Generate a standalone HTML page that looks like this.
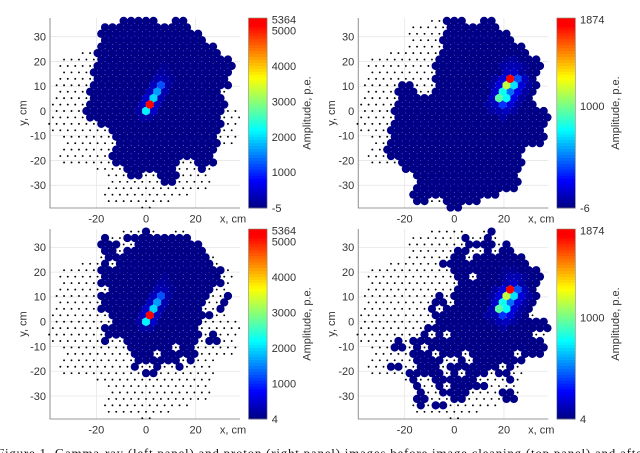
<!DOCTYPE html>
<html lang="en">
<head>
<meta charset="utf-8">
<title>Gamma-ray and proton camera images</title>
<style>
html,body{margin:0;padding:0;background:#fff;width:640px;height:453px;overflow:hidden}
svg{display:block;position:absolute;left:0;top:0}
#chart{filter:blur(0.3px)}
text{font-family:"Liberation Sans",sans-serif;fill:#333;font-size:11px}
#caption text{font-family:"Liberation Serif",serif;fill:#111;font-size:13px}
</style>
</head>
<body>
<svg id="chart" width="640" height="453" viewBox="0 0 640 453" xmlns="http://www.w3.org/2000/svg"></svg>
<svg id="caption" width="640" height="453" viewBox="0 0 640 453" xmlns="http://www.w3.org/2000/svg">
<text x="-3" y="457.5" textLength="650" lengthAdjust="spacing">Figure 1. Gamma-ray (left panel) and proton (right panel) images before image cleaning (top panel) and after</text>
</svg>
<script>
// Lattice rows of the camera: [row, first column, last column] (every second column exists in a row)
const cameraRows = [[14,-6,2],[14,8,10],[13,-11,11],[12,-12,14],[11,-11,15],[10,-12,18],[9,-17,19],[8,-22,22],[7,-23,23],[6,-22,22],[5,-23,21],[4,-24,22],[3,-23,21],[2,-24,20],[1,-25,21],[0,-24,24],[-1,-25,25],[-2,-26,24],[-3,-25,23],[-4,-22,24],[-5,-21,23],[-6,-22,18],[-7,-23,17],[-8,-22,18],[-9,-13,17],[-10,-10,16],[-11,-9,17],[-12,-10,16],[-13,-11,11],[-14,-10,6],[-15,-1,1]];

// Pixels with signal in each panel: [row, first column, last column]
const litGammaRaw = [[14,-6,2],[14,8,10],[13,-11,11],[12,-12,14],[11,-11,15],[10,-12,18],[9,-13,19],[8,-12,22],[7,-13,23],[6,-14,22],[5,-13,21],[4,-14,22],[3,-15,19],[2,-14,20],[1,-15,21],[0,-16,20],[-1,-15,19],[-2,-12,20],[-3,-9,19],[-4,-8,18],[-5,-7,19],[-6,-8,18],[-7,-9,17],[-8,-8,8],[-8,14,18],[-9,-5,7],[-9,15,15],[-10,-4,-2],[-10,4,8],[-11,5,7]];
const litProtonRaw = [[14,-2,2],[14,8,10],[13,-1,11],[12,-2,14],[11,-3,15],[10,-2,18],[9,-3,19],[8,-4,22],[7,-5,23],[6,-4,22],[5,-5,21],[4,-14,-12],[4,-4,22],[3,-15,-11],[3,-5,21],[2,-14,20],[1,-15,21],[0,-16,24],[-1,-15,25],[-2,-16,24],[-3,-17,23],[-4,-16,24],[-5,-17,23],[-6,-18,18],[-7,-17,17],[-8,-14,18],[-9,-13,17],[-10,-10,16],[-11,-9,17],[-12,-10,16],[-13,-11,11],[-14,-10,-8],[-14,-2,6],[-15,-1,1]];
const litGammaClean = [[14,0,0],[13,-11,-11],[13,-5,11],[12,-12,-8],[12,-2,14],[11,-11,-9],[11,-5,15],[10,-10,16],[9,-11,-11],[9,-7,17],[8,-12,20],[7,-11,19],[6,-12,20],[5,-9,17],[4,-12,16],[4,22,22],[3,-11,15],[3,21,21],[2,-12,14],[2,20,20],[1,-9,17],[0,-8,14],[-1,-11,13],[-2,-10,14],[-2,18,18],[-3,-11,-11],[-3,-5,13],[-3,17,19],[-4,-4,6],[-4,10,12],[-5,-3,1],[-5,5,9],[-5,11,13],[-6,-2,8],[-6,12,12],[-7,-3,-3],[-7,3,3],[-7,9,9],[-8,0,2]];
const litProtonClean = [[14,10,10],[13,3,3],[13,9,9],[12,4,6],[12,8,10],[12,14,14],[11,1,3],[11,9,9],[11,13,15],[10,0,2],[10,6,18],[9,-3,19],[8,0,22],[7,1,3],[7,7,23],[6,2,22],[5,1,21],[4,-4,-4],[4,0,22],[3,-5,-3],[3,1,21],[2,-6,-6],[2,-2,20],[1,-5,19],[0,-4,24],[-1,-7,25],[-2,-8,-8],[-2,-4,-4],[-2,0,20],[-3,-15,-15],[-3,-11,23],[-4,-16,-14],[-4,-10,-10],[-4,-6,24],[-5,-11,-7],[-5,-3,1],[-5,5,15],[-5,19,23],[-6,-10,-4],[-6,2,2],[-6,6,18],[-7,-17,-15],[-7,-9,-5],[-7,-1,11],[-7,15,15],[-8,-12,-4],[-8,0,0],[-8,4,8],[-8,12,14],[-9,-11,-11],[-9,-5,-3],[-9,-1,5],[-9,15,15],[-10,-10,-10],[-10,-4,-4],[-10,0,8],[-11,-9,-9],[-11,-3,3],[-11,13,15],[-12,-10,-8],[-12,0,2],[-12,14,16],[-13,-9,-9],[-13,-5,-3]];

// Amplitudes above the base level: [row, column, amplitude in p.e.]
const hotGamma = [[1,1,5364],[0,0,2150],[2,2,1950],[3,3,1620],[4,4,1230],[1,-1,400],[1,3,400],[0,2,450],[0,-2,180],[2,0,450],[2,4,320],[3,1,370],[3,5,260],[4,2,340],[4,6,220],[5,3,290],[5,5,290],[5,7,110],[6,4,180],[6,6,110],[-1,-1,180],[-1,1,220],[7,5,90]];
const hotProton = [[5,15,1874],[4,14,1150],[5,17,420],[4,16,720],[3,13,800],[3,15,480],[2,12,950],[2,14,780],[1,13,370],[6,14,120],[6,16,160],[6,18,80],[5,13,180],[5,19,120],[5,11,65],[4,12,180],[4,18,180],[4,10,70],[4,20,65],[3,11,160],[3,17,200],[3,19,70],[2,10,120],[2,16,200],[2,18,70],[1,11,120],[1,15,180],[1,17,70],[1,9,65],[0,12,105],[0,14,135],[0,16,65],[0,10,55],[-1,13,65],[7,15,95],[7,17,95],[7,13,55],[7,19,50],[8,16,55],[8,14,50]];

const baseAmplitudeGamma = 40;
const baseAmplitudeProton = 14;

const colorTicksGamma = [5364,5000,4000,3000,2000,1000];
const colorTicksProton = [1874,1000];
const colorMinGammaRaw = -5;
const colorMinProtonRaw = -6;
const colorMinClean = 4;
const xTicks = [-20,0,20];
const yTicks = [30,20,10,0,-10,-20,-30];
const xAxisTitle = 'x, cm';
const yAxisTitle = 'y, cm';
const colorTitle = 'Amplitude, p.e.';

const NS = 'http://www.w3.org/2000/svg';
const root = document.getElementById('chart');
const HALF_PITCH_CM = 1.5, ROW_CM = 2.598;
const AX_W = 190, AX_H = 190, PX_X = 2.483, PX_Y = 2.477, R_CELL = 4.13;

function make(tag, parent, attrs) {
  const el = document.createElementNS(NS, tag);
  for (const k in attrs) el.setAttribute(k, attrs[k]);
  parent.appendChild(el);
  return el;
}
function jet(t) {
  const stops = [[0,0,0,135],[0.14,0,0,255],[0.41,0,255,255],[0.69,255,255,0],[0.97,255,0,0],[1,255,0,0]];
  t = Math.max(0, Math.min(1, t));
  t = Math.min(63, Math.floor(t * 64)) / 63;
  for (let i = 1; i < stops.length; i++) {
    if (t <= stops[i][0]) {
      const a = stops[i - 1], b = stops[i], f = (t - a[0]) / (b[0] - a[0]);
      return 'rgb(' + [1, 2, 3].map(c => Math.round(a[c] + (b[c] - a[c]) * f)).join(',') + ')';
    }
  }
  return 'rgb(255,0,0)';
}

function drawPanel(cfg) {
  const g = make('g', root, {});
  
  
  const xScale = cm => cfg.x0 + cm * PX_X;
  const yScale = cm => cfg.y0 - cm * PX_Y;
  const top = cfg.top, bottom = cfg.top + AX_H, left = cfg.left, right = cfg.left + AX_W;

  // grid
  yTicks.forEach(v => {
    const l = make('line', g, {x1: left, x2: right, y1: yScale(v), y2: yScale(v), stroke: '#e6e6e6', 'stroke-width': 0.8});
    
    
  });
  xTicks.forEach(v => {
    const l = make('line', g, {x1: xScale(v), x2: xScale(v), y1: top, y2: bottom, stroke: '#e6e6e6', 'stroke-width': 0.8});
    
    
  });

  // axes
  const ay = make('line', g, {x1: left, x2: left, y1: top, y2: bottom, stroke: '#999', 'stroke-width': 1.1});
  
  
  const ax = make('line', g, {x1: left - 0.5, x2: right, y1: bottom, y2: bottom, stroke: '#999', 'stroke-width': 1.1});
  
  

  // lit lookup
  const lit = new Set();
  cfg.lit.forEach(r => { for (let c = r[1]; c <= r[2]; c += 2) lit.add(r[0] + ':' + c); });
  const amp = new Map();
  cfg.hot.forEach(h => amp.set(h[0] + ':' + h[1], h[2]));

  // empty pixel markers
  cameraRows.forEach(r => {
    for (let c = r[1]; c <= r[2]; c += 2) {
      if (lit.has(r[0] + ':' + c)) continue;
      const d = make('circle', g, {cx: xScale(c * HALF_PITCH_CM), cy: yScale(r[0] * ROW_CM), r: 0.95, fill: '#000'});
      
      
    }
  });

  // lit pixels, weakest first
  const cells = [];
  cfg.lit.forEach(r => {
    for (let c = r[1]; c <= r[2]; c += 2) {
      const key = r[0] + ':' + c;
      cells.push({row: r[0], col: c, v: amp.has(key) ? amp.get(key) : cfg.base});
    }
  });
  cells.sort((a, b) => a.v - b.v);
  cells.forEach(p => {
    const d = make('circle', g, {
      cx: xScale(p.col * HALF_PITCH_CM), cy: yScale(p.row * ROW_CM), r: R_CELL,
      fill: jet((p.v - cfg.min) / (cfg.max - cfg.min))
    });
    
    
  });

  // tick labels
  yTicks.forEach(v => {
    const t = make('text', g, {x: left - 4, y: yScale(v) + 3.8, 'text-anchor': 'end'});
    t.textContent = String(v);
    
    
  });
  xTicks.forEach(v => {
    const t = make('text', g, {x: xScale(v), y: bottom + 14.5, 'text-anchor': 'middle'});
    t.textContent = String(v);
    
    
  });
  const xt = make('text', g, {x: left + 183, y: bottom + 14.5, 'text-anchor': 'middle'});
  xt.textContent = xAxisTitle;
  
  
  const yt = make('text', g, {transform: 'translate(' + (left - 23.5) + ' ' + (top + 95) + ') rotate(-90)', 'text-anchor': 'middle'});
  yt.textContent = yAxisTitle;
  
  

  // colour bar
  const cbX = left + 198.5, cbW = 18.6, steps = 64;
  const cb = make('g', g, {});
  
  
  const cbScale = v => bottom - (v - cfg.min) / (cfg.max - cfg.min) * AX_H;
  for (let i = 0; i < steps; i++) {
    const vLow = cfg.min + (cfg.max - cfg.min) * i / steps;
    const vHigh = cfg.min + (cfg.max - cfg.min) * (i + 1) / steps;
    const s = make('rect', cb, {x: cbX, y: cbScale(vHigh), width: cbW, height: cbScale(vLow) - cbScale(vHigh) + 0.4, fill: jet((i + 0.5) / steps)});
    
    
  }
  const fr = make('rect', cb, {x: cbX, y: top, width: cbW, height: AX_H, fill: 'none', stroke: '#8a8a7a', 'stroke-width': 0.6});
  
  
  cfg.ticks.concat([cfg.min]).forEach(v => {
    const t = make('text', g, {x: left + 221.7, y: cbScale(v) + (v === cfg.max ? 5.5 : 3.8)});
    t.textContent = String(v);
    
    
  });
  const ct = make('text', g, {transform: 'translate(' + (left + 260.5) + ' ' + (top + 95) + ') rotate(-90)', 'text-anchor': 'middle'});
  ct.textContent = colorTitle;
  
  
}

drawPanel({name: 'gamma-raw-panel', left: 50, top: 18, x0: 146, y0: 111, lit: litGammaRaw, hot: hotGamma, base: baseAmplitudeGamma, min: colorMinGammaRaw, max: colorTicksGamma[0], ticks: colorTicksGamma});
drawPanel({name: 'proton-raw-panel', left: 358.3, top: 18, x0: 454.3, y0: 111, lit: litProtonRaw, hot: hotProton, base: baseAmplitudeProton, min: colorMinProtonRaw, max: colorTicksProton[0], ticks: colorTicksProton});
drawPanel({name: 'gamma-clean-panel', left: 50, top: 229, x0: 146, y0: 321.7, lit: litGammaClean, hot: hotGamma, base: baseAmplitudeGamma, min: colorMinClean, max: colorTicksGamma[0], ticks: colorTicksGamma});
drawPanel({name: 'proton-clean-panel', left: 358.3, top: 229, x0: 454.3, y0: 321.7, lit: litProtonClean, hot: hotProton, base: baseAmplitudeProton, min: colorMinClean, max: colorTicksProton[0], ticks: colorTicksProton});
</script>
</body>
</html>
